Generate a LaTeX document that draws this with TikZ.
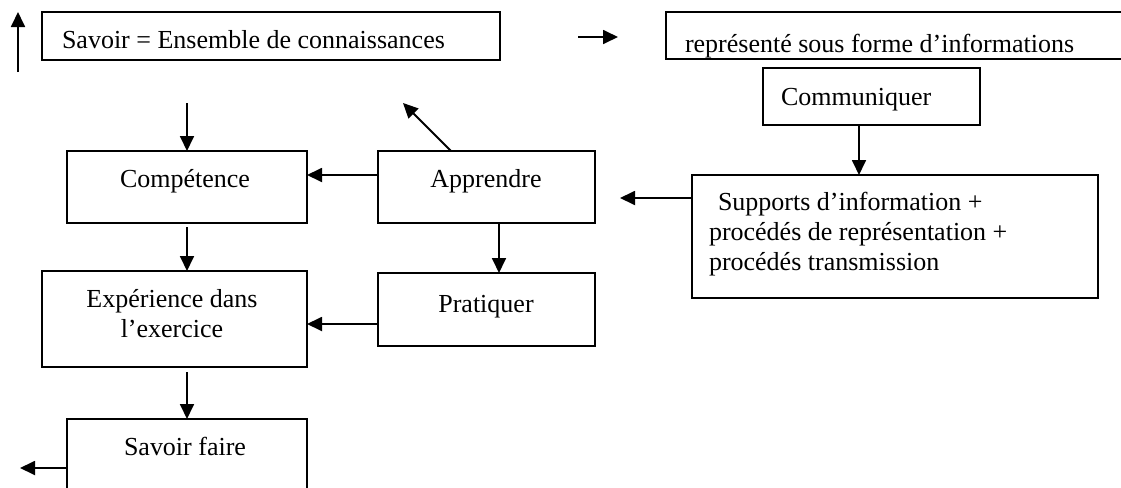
\documentclass[tikz,border=0pt]{standalone}
\usepackage{fontspec}
\setmainfont{Liberation Serif}
\usetikzlibrary{fit,calc,arrows.meta}
\begin{document}
\begin{tikzpicture}[x=0.5pt,y=-0.5pt,
  box/.style={draw, line width=0.9pt, inner sep=0pt, outer sep=0pt},
  lbl/.style={inner sep=0pt, outer sep=0pt, anchor=base, font=\fontsize{13}{15}\selectfont},
  lblw/.style={lbl, anchor=base west},
  arr/.style={line width=0.9pt, -{Triangle[length=7.5pt,width=7pt]}}]
\useasboundingbox (0,0) rectangle (1121,488);
% boxes
\node[box, fit={(42,12) (500,60)}] (savoir) {};
\node[box, fit={(666,12) (1140,59)}] (repr) {};
\node[box, fit={(763,68) (980,125)}] (comm) {};
\node[box, fit={(692,175) (1098,298)}] (supp) {};
\node[box, fit={(67,151) (307,223)}] (comp) {};
\node[box, fit={(378,151) (595,223)}] (app) {};
\node[box, fit={(378,273) (595,346)}] (prat) {};
\node[box, fit={(42,271) (307,367)}] (exp) {};
\node[box, fit={(67,419) (307,510)}] (sf) {};
% texts
\node[lblw] (savoirT) at (62,48) {Savoir = Ensemble de connaissances};
\begin{scope}
\clip (666,12) rectangle (1121,59);
\node[lblw] (reprT) at (685,52) {représenté sous forme d’informations};
\end{scope}
\node[lblw] (commT) at (781,105) {Communiquer};
\node[lblw] (supT1) at (718,210) {Supports d’information +};
\node[lblw] (supT2) at (709,240) {procédés de représentation +};
\node[lblw] (supT3) at (709,270) {procédés transmission};
\node[lbl] (compT) at (185,187) {Compétence};
\node[lbl] (appT) at (486,187) {Apprendre};
\node[lbl] (pratT) at (486,312) {Pratiquer};
\node[lbl] (expT1) at (172,307) {Expérience dans};
\node[lbl] (expT2) at (172,337) {l’exercice};
\node[lbl] (sfT) at (185,455) {Savoir faire};
% free ends
\coordinate (ua1) at (18,72);
\coordinate (ua2) at (18,12);
\coordinate (ma1) at (578,37);
\coordinate (ma2) at (618,37);
\coordinate (supA) at (620,198);
\coordinate (appUL) at (403,103);
\coordinate (cin) at (187,103);
\coordinate (sfo) at (20,468);
% connectors
\draw[arr] (ua1) -- (ua2);
\draw[arr] (ma1) -- (ma2);
\draw[arr] ($(comm.south)+(-12.5,0)$) -- ($(comm.south |- supp.north)+(-12.5,0)$);
\draw[arr] (supp.west |- supA) -- (supA);
\draw[arr] ($(app.west)+(0,-12)$) -- ($(comp.east)+(0,-12)$);
\draw[arr] ($(app.north)+(-35.5,0)$) -- (appUL);
\draw[arr] ($(app.south)+(12.5,0)$) -- ($(prat.north)+(12.5,0)$);
\draw[arr] ($(prat.west)+(0,14.5)$) coordinate (pe) -- (exp.east |- pe);
\draw[arr] (cin) -- (comp.north);
\draw[arr, shorten <=2pt] (comp.south) -- (comp.south |- exp.north);
\draw[arr, shorten <=2.5pt] (comp.south |- exp.south) -- (comp.south |- sf.north);
\draw[arr] (sf.west |- sfo) -- (sfo);
\end{tikzpicture}
\end{document}
